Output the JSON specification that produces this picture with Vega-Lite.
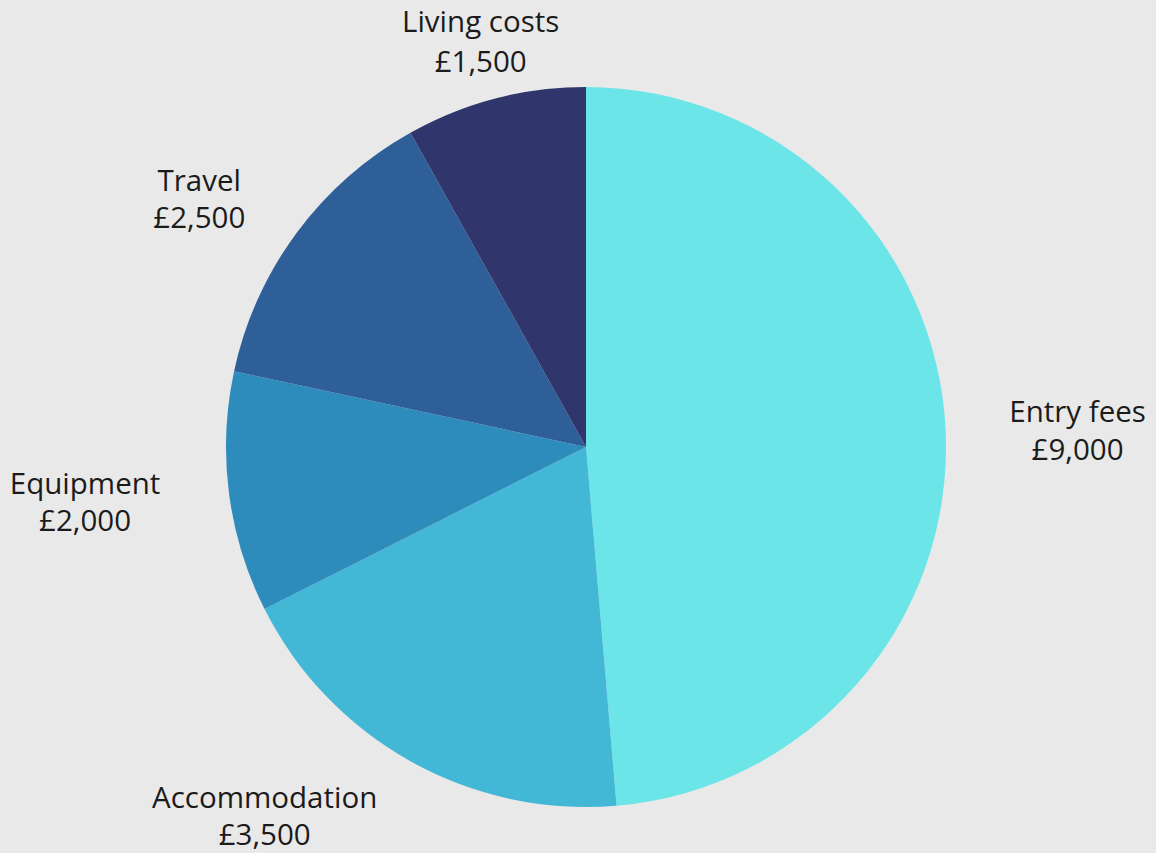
{
  "$schema": "https://vega.github.io/schema/vega-lite/v6.json",
  "width": 1140,
  "height": 812,
  "autosize": {"type": "none"},
  "padding": {"left": 16, "top": 41, "right": 0, "bottom": 0},
  "background": "#e9e9e9",
  "view": {"stroke": null},
  "data": {
    "values": [
      {"category": "Entry fees", "amount": 9000, "rank": 1},
      {"category": "Accommodation", "amount": 3500, "rank": 2},
      {"category": "Equipment", "amount": 2000, "rank": 3},
      {"category": "Travel", "amount": 2500, "rank": 4},
      {"category": "Living costs", "amount": 1500, "rank": 5}
    ]
  },
  "transform": [
    {"stack": "amount", "groupby": [], "sort": [{"field": "rank", "order": "ascending"}], "as": ["t0", "t1"]},
    {"calculate": "(datum.t0 + datum.t1) / 2", "as": "mid"},
    {"calculate": "datum.category + '\\n£' + format(datum.amount, ',')", "as": "label"}
  ],
  "layer": [
    {
      "mark": {"type": "arc", "radius": 360, "stroke": null},
      "encoding": {
        "theta": {"field": "t0", "type": "quantitative", "scale": {"domain": [0, 18500]}},
        "theta2": {"field": "t1"},
        "color": {
          "field": "category",
          "type": "nominal",
          "scale": {
            "domain": ["Entry fees", "Accommodation", "Equipment", "Travel", "Living costs"],
            "range": ["#6be5e8", "#43b7d6", "#2e8cbd", "#2e5f99", "#30356c"]
          },
          "legend": null
        }
      }
    },
    {
      "transform": [{"filter": "datum.category == 'Entry fees'"}],
      "mark": {"type": "text", "radius": 492, "dy": -13, "font": "Open Sans", "fontSize": 29.5, "color": "#1b1b1b", "lineBreak": "\n", "lineHeight": 38, "align": "center", "baseline": "middle"},
      "encoding": {"theta": {"field": "mid", "type": "quantitative"}, "text": {"field": "label"}}
    },
    {
      "transform": [{"filter": "datum.category == 'Accommodation'"}],
      "mark": {"type": "text", "radius": 421, "dx": -116, "dy": -16, "font": "Open Sans", "fontSize": 29.5, "color": "#1b1b1b", "lineBreak": "\n", "lineHeight": 37, "align": "center", "baseline": "middle"},
      "encoding": {"theta": {"field": "mid", "type": "quantitative"}, "text": {"field": "label"}}
    },
    {
      "transform": [{"filter": "datum.category == 'Equipment'"}],
      "mark": {"type": "text", "radius": 505, "dy": -26, "font": "Open Sans", "fontSize": 29.5, "color": "#1b1b1b", "lineBreak": "\n", "lineHeight": 37, "align": "center", "baseline": "middle"},
      "encoding": {"theta": {"field": "mid", "type": "quantitative"}, "text": {"field": "label"}}
    },
    {
      "transform": [{"filter": "datum.category == 'Travel'"}],
      "mark": {"type": "text", "radius": 481, "dy": 21, "font": "Open Sans", "fontSize": 29.5, "color": "#1b1b1b", "lineBreak": "\n", "lineHeight": 37, "align": "center", "baseline": "middle"},
      "encoding": {"theta": {"field": "mid", "type": "quantitative"}, "text": {"field": "label"}}
    },
    {
      "transform": [{"filter": "datum.category == 'Living costs'"}],
      "mark": {"type": "text", "radius": 418, "dy": -19, "font": "Open Sans", "fontSize": 29.5, "color": "#1b1b1b", "lineBreak": "\n", "lineHeight": 40, "align": "center", "baseline": "middle"},
      "encoding": {"theta": {"field": "mid", "type": "quantitative"}, "text": {"field": "label"}}
    }
  ]
}
